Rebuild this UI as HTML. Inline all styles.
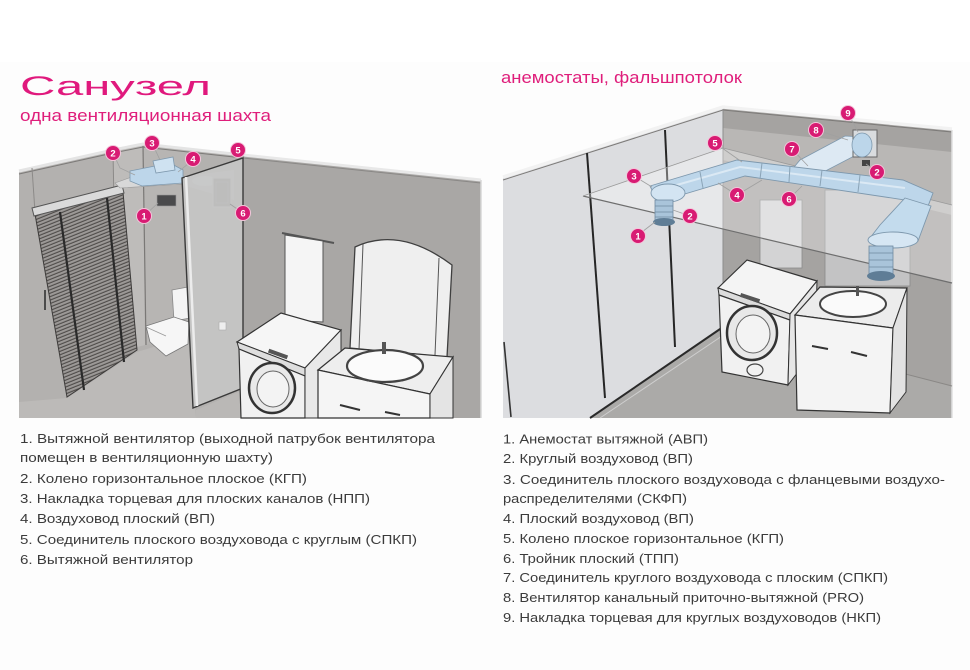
<!DOCTYPE html>
<html><head><meta charset="utf-8">
<style>
html,body{margin:0;padding:0;background:#fff;}
svg{display:block;}
text{font-family:"Liberation Sans","DejaVu Sans",sans-serif;}
</style></head>
<body>
<svg width="970" height="670" viewBox="0 0 970 670" xmlns="http://www.w3.org/2000/svg">
<defs>
  <pattern id="slats" width="6" height="3.2" patternUnits="userSpaceOnUse" patternTransform="rotate(-22)">
    <rect width="6" height="3.2" fill="#9c9997"/>
    <rect y="2.1" width="6" height="1.1" fill="#4e4b49"/>
  </pattern>
</defs>
<rect x="0" y="62" width="970" height="608" fill="#fdfdfd"/>

<!-- Titles -->
<text x="20" y="95" font-size="26.5" fill="#e0197d" textLength="191" lengthAdjust="spacingAndGlyphs">Санузел</text>
<text x="20" y="121" font-size="16.5" fill="#df1e7b" textLength="251" lengthAdjust="spacingAndGlyphs">одна вентиляционная шахта</text>
<text x="501" y="83" font-size="16.5" fill="#df1e7b" textLength="241" lengthAdjust="spacingAndGlyphs">анемостаты, фальшпотолок</text>

<!-- ================= LEFT ILLUSTRATION ================= -->
<g>
  <!-- right wall -->
  <polygon points="243,156 481,181 481,418 243,418" fill="#a9a7a5"/>
  <polyline points="243,155 481,180" stroke="#e8e8e8" stroke-width="3" fill="none"/>
  <polyline points="243,158 481,183" stroke="#8a8886" stroke-width="1" fill="none"/>
  <line x1="481" y1="180" x2="481" y2="418" stroke="#d8d8d8" stroke-width="1.5"/>
  <!-- left wall + niche -->
  <polygon points="19,172 113,151 143,145 243,156 243,418 19,418" fill="#b3b1af"/>
  <polygon points="113,151 143,145 145,345 117,352" fill="#bebcba"/>
  <polygon points="143,145 190,150 190,338 145,345" fill="#b7b5b3"/>
  <polyline points="19,171 113,150 143,144 243,155" stroke="#e4e4e4" stroke-width="3" fill="none"/>
  <polyline points="19,174 113,153 143,147 243,158" stroke="#7c7a78" stroke-width="1" fill="none"/>
  <line x1="113" y1="152" x2="117" y2="352" stroke="#8c8a88" stroke-width="1"/>
  <line x1="143" y1="146" x2="146" y2="345" stroke="#7a7876" stroke-width="1.2"/>
  <line x1="32" y1="168" x2="35" y2="212" stroke="#8c8a88" stroke-width="1"/>
  <!-- floor -->
  <polygon points="19,402 67,398 137,352 190,336 196,418 19,418" fill="#bcbab8"/>
  <polygon points="196,410 243,390 243,418 196,418" fill="#bab8b6"/>
  <!-- blinds -->
  <polygon points="35,214 123,192 137,350 67,397" fill="url(#slats)" stroke="#3d3b3a" stroke-width="1"/>
  <line x1="60" y1="212" x2="84" y2="390" stroke="#2a2a2a" stroke-width="2.2"/>
  <line x1="107" y1="198" x2="124" y2="362" stroke="#2a2a2a" stroke-width="2.2"/>
  <line x1="45" y1="290" x2="45" y2="310" stroke="#2a2a2a" stroke-width="1.5"/>
  <polygon points="32,208 122,185 124,193 34,216" fill="#dadada" stroke="#555" stroke-width="1"/>
  <!-- toilet -->
  <polygon points="172,290 188,287 190,318 174,321" fill="#f4f4f4" stroke="#888" stroke-width="0.8"/>
  <polygon points="146,326 174,317 189,322 188,344 166,356 150,342" fill="#f6f6f6" stroke="#777" stroke-width="0.8"/>
  <line x1="146" y1="327" x2="166" y2="336" stroke="#999" stroke-width="0.8"/>
  <!-- lowered ceiling shelf -->
  <polygon points="115,183 140,174 184,176 184,184 120,188" fill="#d8d8d8" stroke="#999" stroke-width="0.6"/>
  <polygon points="186,176 234,170 234,200 186,186" fill="#cfd4d8" opacity="0.8"/>
  <!-- duct -->
  <polygon points="130,171 170,163 183,170 183,183 142,186 130,181" fill="#bdd6ea" stroke="#7e98ad" stroke-width="0.8"/>
  <polygon points="153,161 173,157 175,170 156,173" fill="#cfe2f1" stroke="#7e98ad" stroke-width="0.8"/>
  <ellipse cx="205" cy="181" rx="13" ry="5" fill="#dce9f4"/>
  <!-- fans -->
  <rect x="157" y="195" width="19" height="11" fill="#4a4a4c" stroke="#999" stroke-width="0.6"/>
  <rect x="213" y="178" width="18" height="29" fill="#58585a" stroke="#c4c4c4" stroke-width="1.2"/>
  <rect x="216" y="182" width="12" height="21" fill="none" stroke="#8a8a8a" stroke-width="0.8"/>
  <!-- glass partition -->
  <polygon points="182,178 243,158 243,388 193,408" fill="#c6c5c4" opacity="0.92"/>
  <polygon points="182,178 243,158 243,388 193,408" fill="none" stroke="#3a3a3a" stroke-width="1.4"/>
  <line x1="186" y1="177" x2="197" y2="406" stroke="#ececec" stroke-width="2.5"/>
  <rect x="219" y="322" width="7" height="8" fill="#eee" stroke="#aaa" stroke-width="0.6"/>
  <!-- towel -->
  <line x1="282" y1="233" x2="334" y2="243" stroke="#555" stroke-width="2"/>
  <polygon points="285,235 323,241 323,322 285,320" fill="#f5f5f5" stroke="#555" stroke-width="1"/>
  <!-- mirror -->
  <path d="M350,348 L355,247 Q400,226 452,265 L447,357 Z" fill="#efefef" stroke="#3f3f3f" stroke-width="1.3"/>
  <line x1="363" y1="244" x2="359" y2="350" stroke="#555" stroke-width="1"/>
  <line x1="439" y1="258" x2="435" y2="355" stroke="#555" stroke-width="1"/>
  <!-- washing machine -->
  <polygon points="237,342 281,313 341,330 305,368" fill="#f6f6f6" stroke="#333" stroke-width="1.2"/>
  <polygon points="237,342 305,368 305,376 239,349" fill="#dedede" stroke="#333" stroke-width="1"/>
  <rect x="268" y="352" width="20" height="4" fill="#555" transform="rotate(20 278 354)"/>
  <polygon points="239,349 305,376 305,418 241,418" fill="#f1f1f1" stroke="#333" stroke-width="1.2"/>
  <polygon points="305,368 341,330 341,418 305,418" fill="#e8e8e8" stroke="#333" stroke-width="1"/>
  <ellipse cx="272" cy="388" rx="23" ry="25" fill="#e9e9e9" stroke="#333" stroke-width="2.5"/>
  <ellipse cx="273" cy="389" rx="16" ry="18" fill="#f3f3f3" stroke="#666" stroke-width="1"/>
  <!-- sink cabinet -->
  <polygon points="318,370 345,348 453,357 430,394" fill="#eeeeee" stroke="#333" stroke-width="1.2"/>
  <polygon points="318,370 430,394 430,418 318,418" fill="#f5f5f5" stroke="#333" stroke-width="1.2"/>
  <polygon points="430,394 453,357 453,418 430,418" fill="#e4e4e4" stroke="#333" stroke-width="1"/>
  <ellipse cx="385" cy="366" rx="38" ry="16" fill="#fbfbfb" stroke="#444" stroke-width="2.2"/>
  <rect x="382" y="342" width="4" height="12" fill="#555"/>
  <line x1="340" y1="405" x2="360" y2="410" stroke="#333" stroke-width="2"/>
  <line x1="385" y1="412" x2="400" y2="415" stroke="#333" stroke-width="2"/>

  <!-- leader lines -->
  <g stroke="#a0a0a0" stroke-width="0.8" fill="none">
    <polyline points="113,153 120,168 135,175"/>
    <polyline points="152,143 160,160"/>
    <polyline points="193,160 178,172"/>
    <polyline points="238,150 245,158"/>
    <polyline points="144,216 158,203"/>
    <polyline points="243,213 230,204"/>
  </g>
</g>

<!-- ================= RIGHT ILLUSTRATION ================= -->
<g>
  <!-- back wall -->
  <polygon points="723,108 952,130 952,418 723,418" fill="#a5a3a1"/>
  <polygon points="723,128 952,152 952,215 723,160" fill="#b9b7b5"/>
  <!-- floor -->
  <polygon points="590,418 723,327 952,386 952,418" fill="#abaaa8"/>
  <!-- left wall -->
  <polygon points="503,178 723,108 723,327 590,418 503,418" fill="#dcdde0"/>
  <polyline points="503,177 723,107 952,129" stroke="#f2f2f2" stroke-width="3.5" fill="none"/>
  <polyline points="503,180 723,110 952,132" stroke="#7c7a78" stroke-width="1" fill="none"/>
  <line x1="952" y1="130" x2="952" y2="418" stroke="#e0e0e0" stroke-width="1.5"/>
  <line x1="723" y1="109" x2="723" y2="327" stroke="#8d8d8d" stroke-width="1"/>
  <!-- panel lines -->
  <line x1="587" y1="153" x2="605" y2="398" stroke="#262626" stroke-width="2"/>
  <line x1="665" y1="130" x2="675" y2="347" stroke="#262626" stroke-width="2"/>
  <line x1="504" y1="342" x2="511" y2="417" stroke="#333" stroke-width="1.6"/>
  <!-- floor edge -->
  <line x1="590" y1="418" x2="723" y2="327" stroke="#2a2a2a" stroke-width="2"/>
  <line x1="600" y1="418" x2="728" y2="332" stroke="#cfcfcf" stroke-width="1"/>
  <line x1="723" y1="327" x2="952" y2="386" stroke="#8a8886" stroke-width="1"/>

  <!-- light boxes behind ceiling -->
  <rect x="760" y="200" width="42" height="68" fill="#d3d3d4" stroke="#8a8a8a" stroke-width="0.8"/>
  <rect x="825" y="190" width="85" height="96" fill="#c3c3c4" stroke="#8a8a8a" stroke-width="0.8"/>

  <!-- ceiling plane -->
  <polygon points="583,196 723,148 952,205 952,283" fill="#ffffff" opacity="0.32"/>
  <line x1="583" y1="196" x2="952" y2="283" stroke="#6e6e6e" stroke-width="1.2"/>
  <line x1="583" y1="196" x2="723" y2="148" stroke="#9a9a9a" stroke-width="0.8"/>
  <line x1="723" y1="148" x2="952" y2="205" stroke="#9a9a9a" stroke-width="0.8"/>

  <!-- washing machine -->
  <polygon points="718,288 747,260 817,281 790,314" fill="#f4f4f4" stroke="#333" stroke-width="1.2"/>
  <polygon points="718,288 790,314 790,320 719,295" fill="#dcdcdc" stroke="#333" stroke-width="1"/>
  <rect x="740" y="296" width="20" height="4" fill="#555" transform="rotate(18 750 298)"/>
  <polygon points="719,295 790,320 788,385 722,372" fill="#f1f1f1" stroke="#333" stroke-width="1.2"/>
  <polygon points="790,314 817,281 815,350 788,385" fill="#e6e6e6" stroke="#333" stroke-width="1"/>
  <ellipse cx="752" cy="333" rx="25" ry="27" fill="#e8e8e8" stroke="#333" stroke-width="2.5"/>
  <ellipse cx="753" cy="334" rx="17" ry="19" fill="#f3f3f3" stroke="#666" stroke-width="1"/>
  <ellipse cx="755" cy="370" rx="8" ry="6" fill="none" stroke="#444" stroke-width="1.2"/>

  <!-- sink cabinet -->
  <polygon points="795,315 820,287 907,288 893,328" fill="#ececec" stroke="#333" stroke-width="1.2"/>
  <polygon points="795,315 893,328 890,413 797,410" fill="#f4f4f4" stroke="#333" stroke-width="1.2"/>
  <polygon points="893,328 907,288 906,392 890,413" fill="#e2e2e2" stroke="#333" stroke-width="1"/>
  <ellipse cx="853" cy="304" rx="33" ry="13" fill="#fafafa" stroke="#444" stroke-width="2"/>
  <rect x="856" y="286" width="3" height="10" fill="#555"/>
  <line x1="812" y1="346" x2="828" y2="349" stroke="#333" stroke-width="2"/>
  <line x1="851" y1="352" x2="867" y2="356" stroke="#333" stroke-width="2"/>

  <!-- ducts -->
  <polygon points="790,172 812,178 860,153 862,137 845,136 800,160" fill="#dde9f3" stroke="#7e98ad" stroke-width="0.8"/>
  <rect x="853" y="130" width="24" height="27" fill="#d9dcdf" stroke="#666" stroke-width="1"/>
  <ellipse cx="862" cy="145" rx="10" ry="12" fill="#bcd6ea" stroke="#7e98ad" stroke-width="0.8"/>
  <rect x="862" y="160" width="8" height="6" fill="#444"/>
  <polygon points="650,186 737,160 903,180 933,193 925,214 905,200 745,176 658,202" fill="#bdd6ea" stroke="#7e98ad" stroke-width="0.9"/>
  <polyline points="652,192 740,167 905,188" stroke="#dbe9f4" stroke-width="2" fill="none"/>
  <polygon points="905,198 931,206 918,241 870,238 880,225" fill="#c3dbed" stroke="#7e98ad" stroke-width="0.9"/>
  <g stroke="#8aa3b6" stroke-width="1">
    <line x1="700" y1="172" x2="703" y2="188"/>
    <line x1="762" y1="163" x2="760" y2="179"/>
    <line x1="790" y1="166" x2="789" y2="182"/>
    <line x1="822" y1="170" x2="820" y2="186"/>
    <line x1="860" y1="175" x2="858" y2="192"/>
  </g>
  <ellipse cx="668" cy="193" rx="17" ry="9" fill="#d3e4f2" stroke="#7e98ad" stroke-width="0.9"/>
  <ellipse cx="893" cy="240" rx="25" ry="8" fill="#d6e6f3" stroke="#7e98ad" stroke-width="0.9"/>
  <!-- round drops -->
  <rect x="655" y="200" width="18" height="21" fill="#a9c4da" stroke="#6f8aa0" stroke-width="0.8"/>
  <g stroke="#6f8aa0" stroke-width="0.8"><line x1="655" y1="206" x2="673" y2="206"/><line x1="655" y1="212" x2="673" y2="212"/><line x1="655" y1="217" x2="673" y2="217"/></g>
  <ellipse cx="664" cy="222" rx="11" ry="4" fill="#5f7d96"/>
  <rect x="869" y="246" width="24" height="29" fill="#a9c4da" stroke="#6f8aa0" stroke-width="0.8"/>
  <g stroke="#6f8aa0" stroke-width="0.8"><line x1="869" y1="253" x2="893" y2="253"/><line x1="869" y1="260" x2="893" y2="260"/><line x1="869" y1="267" x2="893" y2="267"/></g>
  <ellipse cx="881" cy="276" rx="14" ry="5" fill="#5f7d96"/>

  <!-- leader lines -->
  <g stroke="#a0a0a0" stroke-width="0.8" fill="none">
    <polyline points="848,113 858,132"/>
    <polyline points="816,130 848,140"/>
    <polyline points="715,143 742,162"/>
    <polyline points="792,149 808,166"/>
    <polyline points="877,172 866,164"/>
    <polyline points="634,176 652,187"/>
    <polyline points="737,195 718,183"/>
    <polyline points="737,195 762,180"/>
    <polyline points="789,199 802,186"/>
    <polyline points="690,216 673,210"/>
    <polyline points="638,235 655,222"/>
  </g>
</g>

<!-- markers -->
<g font-size="9.5" font-weight="bold" fill="#fff" text-anchor="middle">
  <g><circle cx="113" cy="153" r="7.5" fill="#d81b73" stroke="#f3c6da" stroke-width="1"/><text x="113" y="156.5">2</text></g>
  <g><circle cx="152" cy="143" r="7.5" fill="#d81b73" stroke="#f3c6da" stroke-width="1"/><text x="152" y="146.5">3</text></g>
  <g><circle cx="193" cy="159" r="7.5" fill="#d81b73" stroke="#f3c6da" stroke-width="1"/><text x="193" y="162.5">4</text></g>
  <g><circle cx="238" cy="150" r="7.5" fill="#d81b73" stroke="#f3c6da" stroke-width="1"/><text x="238" y="153.5">5</text></g>
  <g><circle cx="144" cy="216" r="7.5" fill="#d81b73" stroke="#f3c6da" stroke-width="1"/><text x="144" y="219.5">1</text></g>
  <g><circle cx="243" cy="213" r="7.5" fill="#d81b73" stroke="#f3c6da" stroke-width="1"/><text x="243" y="216.5">6</text></g>

  <g><circle cx="848" cy="113" r="7.5" fill="#d81b73" stroke="#f3c6da" stroke-width="1"/><text x="848" y="116.5">9</text></g>
  <g><circle cx="816" cy="130" r="7.5" fill="#d81b73" stroke="#f3c6da" stroke-width="1"/><text x="816" y="133.5">8</text></g>
  <g><circle cx="715" cy="143" r="7.5" fill="#d81b73" stroke="#f3c6da" stroke-width="1"/><text x="715" y="146.5">5</text></g>
  <g><circle cx="792" cy="149" r="7.5" fill="#d81b73" stroke="#f3c6da" stroke-width="1"/><text x="792" y="152.5">7</text></g>
  <g><circle cx="877" cy="172" r="7.5" fill="#d81b73" stroke="#f3c6da" stroke-width="1"/><text x="877" y="175.5">2</text></g>
  <g><circle cx="634" cy="176" r="7.5" fill="#d81b73" stroke="#f3c6da" stroke-width="1"/><text x="634" y="179.5">3</text></g>
  <g><circle cx="737" cy="195" r="7.5" fill="#d81b73" stroke="#f3c6da" stroke-width="1"/><text x="737" y="198.5">4</text></g>
  <g><circle cx="789" cy="199" r="7.5" fill="#d81b73" stroke="#f3c6da" stroke-width="1"/><text x="789" y="202.5">6</text></g>
  <g><circle cx="690" cy="216" r="7.5" fill="#d81b73" stroke="#f3c6da" stroke-width="1"/><text x="690" y="219.5">2</text></g>
  <g><circle cx="638" cy="236" r="7.5" fill="#d81b73" stroke="#f3c6da" stroke-width="1"/><text x="638" y="239.5">1</text></g>
</g>

<!-- left list -->
<g font-size="13" fill="#3b3b3b" lengthAdjust="spacingAndGlyphs">
  <text x="20" y="443" textLength="415" lengthAdjust="spacingAndGlyphs">1. Вытяжной вентилятор (выходной патрубок вентилятора</text>
  <text x="20" y="462" textLength="253" lengthAdjust="spacingAndGlyphs">помещен в вентиляционную шахту)</text>
  <text x="20" y="483" textLength="287" lengthAdjust="spacingAndGlyphs">2. Колено горизонтальное плоское (КГП)</text>
  <text x="20" y="503" textLength="350" lengthAdjust="spacingAndGlyphs">3. Накладка торцевая для плоских каналов (НПП)</text>
  <text x="20" y="523" textLength="195" lengthAdjust="spacingAndGlyphs">4. Воздуховод плоский (ВП)</text>
  <text x="20" y="544" textLength="397" lengthAdjust="spacingAndGlyphs">5. Соединитель плоского воздуховода с круглым (СПКП)</text>
  <text x="20" y="564" textLength="173" lengthAdjust="spacingAndGlyphs">6. Вытяжной вентилятор</text>
</g>

<!-- right list -->
<g font-size="13" fill="#3b3b3b">
  <text x="503" y="443.5" textLength="205" lengthAdjust="spacingAndGlyphs">1. Анемостат вытяжной (АВП)</text>
  <text x="503" y="463" textLength="190" lengthAdjust="spacingAndGlyphs">2. Круглый воздуховод (ВП)</text>
  <text x="503" y="484" textLength="442" lengthAdjust="spacingAndGlyphs">3. Соединитель плоского воздуховода с фланцевыми воздухо-</text>
  <text x="503" y="503" textLength="184" lengthAdjust="spacingAndGlyphs">распределителями (СКФП)</text>
  <text x="503" y="523" textLength="191" lengthAdjust="spacingAndGlyphs">4. Плоский воздуховод (ВП)</text>
  <text x="503" y="543" textLength="281" lengthAdjust="spacingAndGlyphs">5. Колено плоское горизонтальное (КГП)</text>
  <text x="503" y="563" textLength="176" lengthAdjust="spacingAndGlyphs">6. Тройник плоский (ТПП)</text>
  <text x="503" y="582" textLength="385" lengthAdjust="spacingAndGlyphs">7. Соединитель круглого воздуховода с плоским (СПКП)</text>
  <text x="503" y="602" textLength="361" lengthAdjust="spacingAndGlyphs">8. Вентилятор канальный приточно-вытяжной (PRO)</text>
  <text x="503" y="622" textLength="378" lengthAdjust="spacingAndGlyphs">9. Накладка торцевая для круглых воздуховодов (НКП)</text>
</g>
</svg>
</body></html>
